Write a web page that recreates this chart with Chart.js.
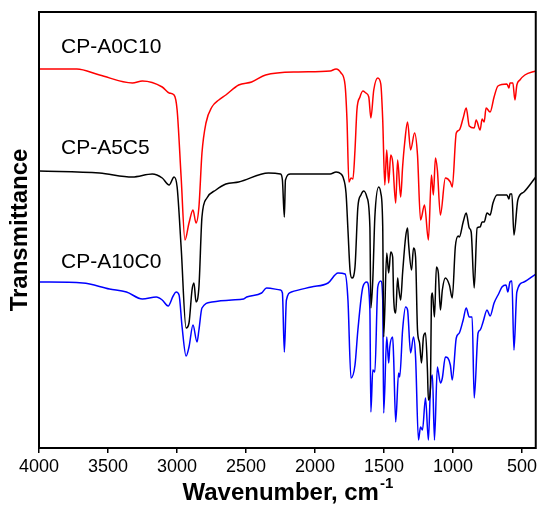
<!DOCTYPE html>
<html>
<head>
<meta charset="utf-8">
<script src="https://cdn.jsdelivr.net/npm/chart.js@4.4.1/dist/chart.umd.min.js"></script>
<style>
html,body{margin:0;padding:0;background:#fff;}
canvas{display:block;}
</style>
</head>
<body>
<canvas id="c" width="540" height="507"></canvas>
<script>
// ---- Data (wavenumber in cm-1, transmittance in arbitrary offset units) ----
const seriesNames = ["CP-A0C10", "CP-A5C5", "CP-A10C0"];
const xTicks = [4000, 3500, 3000, 2500, 2000, 1500, 1000, 500];

const wnA0C10 = [4000,3726,3561,3323,3251,3107,3057,3021,2999,2970,2942,2913,2884,2862,2841,2819,2790,2747,2697,2646,2553,2459,2358,2121,1890,1847,1811,1782,1768,1754,1739,1725,1710,1696,1674,1653,1631,1610,1595,1574,1545,1523,1509,1494,1480,1466,1451,1437,1415,1401,1379,1365,1350,1329,1307,1278,1257,1235,1206,1178,1156,1142,1127,1113,1091,1055,1019,1005,976,954,926,904,882,846,832,803,789,774,760,731,702,674,609,594,587,566,551,537,515,479,400];
const tA0C10 = [379,379,373,365,367,361,355,353,338,271,208,225,238,225,241,295,325,341,348,353,363,366,373,376,377,379,375,363,328,266,270,269,298,338,351,357,355,351,330,358,370,364,328,263,298,265,293,286,245,288,251,281,305,326,298,315,293,228,243,208,273,253,290,278,233,270,266,261,315,318,330,340,322,320,328,318,329,326,340,336,351,362,364,360,365,365,348,363,368,373,377];

const wnA5C5 = [4000,3561,3323,3179,3107,3057,3021,2999,2970,2934,2913,2891,2877,2862,2841,2819,2783,2718,2646,2553,2337,2250,2236,2222,2214,2178,1890,1847,1811,1797,1775,1761,1746,1732,1710,1689,1667,1646,1624,1602,1595,1581,1566,1538,1523,1509,1502,1480,1466,1451,1437,1430,1415,1401,1394,1379,1365,1343,1329,1322,1300,1286,1271,1257,1242,1228,1214,1199,1185,1178,1163,1156,1149,1134,1120,1106,1091,1077,1055,1026,1005,983,962,954,926,904,882,868,846,825,803,789,774,753,731,710,681,609,594,587,573,558,530,486,400];
const tA5C5 = [277,275,271,274,270,263,271,261,201,120,125,158,165,146,161,231,250,258,264,266,275,274,268,231,268,274,274,276,274,271,255,218,178,170,181,241,253,257,251,221,140,168,231,261,255,221,111,195,175,196,191,151,135,170,161,148,175,211,220,205,178,200,191,118,105,85,111,115,78,48,61,151,155,131,181,175,138,158,170,163,150,201,212,211,226,235,220,216,160,220,221,226,226,235,233,245,253,253,249,254,254,213,248,256,271];

const wnA10C0 = [4000,3683,3489,3366,3251,3150,3107,3064,3028,3006,2985,2963,2934,2913,2884,2855,2841,2819,2747,2603,2517,2495,2387,2351,2250,2236,2222,2207,2171,2027,1905,1833,1782,1761,1739,1710,1689,1653,1624,1602,1595,1581,1566,1545,1523,1509,1502,1480,1466,1458,1437,1430,1415,1394,1386,1365,1343,1329,1307,1286,1271,1250,1235,1221,1199,1178,1163,1149,1134,1113,1091,1077,1055,1019,1005,976,954,926,904,882,861,846,818,803,782,753,731,702,666,645,616,602,587,573,558,537,486,400];
const tA10C0 = [166,165,159,156,149,151,148,142,152,156,153,121,92,101,123,106,118,140,146,148,149,151,155,160,158,155,96,148,156,161,165,175,174,148,70,83,118,161,166,138,36,78,76,161,167,148,35,111,85,101,111,91,26,75,71,118,141,138,95,111,91,8,21,18,50,8,61,73,8,81,65,70,91,83,68,110,115,128,140,131,131,50,115,118,126,138,132,145,155,161,163,156,166,167,98,156,166,174];

const wnSeries = [wnA0C10, wnA5C5, wnA10C0];
const tSeries = [tA0C10, tA5C5, tA10C0];
const seriesColors = ["#ff0000", "#000000", "#0000ff"];

function toPoints(xs, ys) { return xs.map((x, i) => ({ x: x, y: ys[i] })); }

const datasets = seriesNames.map((name, i) => ({
  label: name,
  data: toPoints(wnSeries[i], tSeries[i]),
  borderColor: seriesColors[i],
  backgroundColor: seriesColors[i],
  borderWidth: 1.5,
  pointRadius: 0,
  cubicInterpolationMode: 'monotone',
  fill: false
}));

const FONT = "'Liberation Sans', Arial, Helvetica, sans-serif";

const decor = {
  id: 'decor',
  afterDraw(chart) {
    const ctx = chart.ctx;
    const a = chart.chartArea;
    ctx.save();
    // frame
    ctx.strokeStyle = '#000';
    ctx.lineWidth = 2;
    ctx.strokeRect(a.left, a.top, a.right - a.left, a.bottom - a.top);
    // series labels
    ctx.fillStyle = '#000';
    ctx.font = '21px ' + FONT;
    ctx.textAlign = 'left';
    ctx.textBaseline = 'middle';
    const labelY = [47, 148, 262];
    seriesNames.forEach((n, i) => ctx.fillText(n, a.left + 22, labelY[i]));
    // x title with superscript
    const main = 'Wavenumber, cm';
    const sup = '-1';
    ctx.font = 'bold 24px ' + FONT;
    const w1 = ctx.measureText(main).width;
    ctx.font = 'bold 15px ' + FONT;
    const w2 = ctx.measureText(sup).width;
    const cx = (a.left + a.right) / 2;
    const x0 = cx - (w1 + w2) / 2;
    const ty = 493;
    ctx.font = 'bold 24px ' + FONT;
    ctx.textBaseline = 'middle';
    ctx.fillText(main, x0, ty);
    ctx.font = 'bold 15px ' + FONT;
    ctx.fillText(sup, x0 + w1 + 1, ty - 9);
    ctx.restore();
  }
};

new Chart(document.getElementById('c'), {
  type: 'line',
  data: { datasets: datasets },
  options: {
    responsive: false,
    animation: false,
    layout: { padding: { left: 0, right: 1, top: 12, bottom: 0 } },
    plugins: { legend: { display: false }, tooltip: { enabled: false } },
    scales: {
      x: {
        type: 'linear',
        reverse: true,
        min: 400,
        max: 4000,
        afterBuildTicks: (s) => { s.ticks = xTicks.map(v => ({ value: v })); },
        afterFit: (s) => { s.height = 59; },
        border: { display: false },
        grid: { drawOnChartArea: false, drawTicks: true, tickLength: 5, color: '#000', lineWidth: 1.5 },
        ticks: { color: '#000', font: { family: FONT, size: 18 }, padding: 3, maxRotation: 0, autoSkip: false,
                 callback: (v) => String(v) }
      },
      y: {
        type: 'linear',
        min: 0,
        max: 436,
        afterFit: (s) => { s.width = 39; },
        border: { display: false },
        grid: { display: false },
        ticks: { display: false },
        title: { display: true, text: 'Transmittance', color: '#000', font: { family: FONT, size: 24, weight: 'bold' }, padding: { top: 6, bottom: 0 } }
      }
    }
  },
  plugins: [decor]
});
</script>
</body>
</html>
